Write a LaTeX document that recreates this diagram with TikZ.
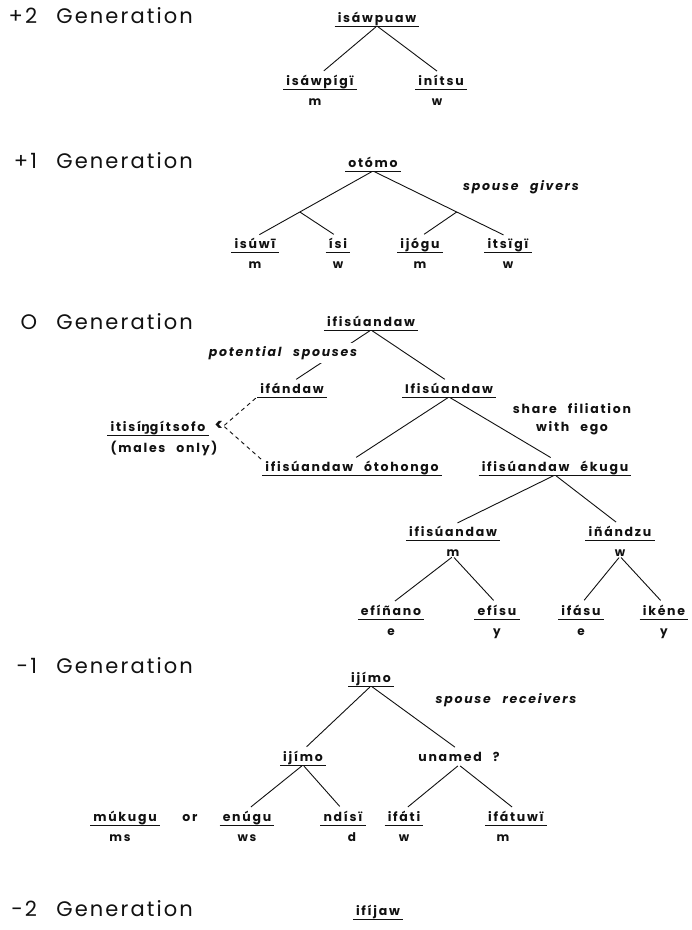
\documentclass[tikz,border=0pt]{standalone}
\usepackage{fontspec}
\usepackage{tikz}
\usetikzlibrary{positioning}
\newfontfamily\genfont[LetterSpace=10,WordSpace=2.5]{Poppins}
\newfontfamily\termfont[LetterSpace=14,WordSpace=2.5]{Poppins}
\newfontfamily\engfont{DejaVu Sans}
\newcommand{\eng}{{\engfont\bfseries ŋ}}
\definecolor{inkblack}{HTML}{111111}
\tikzset{
  gen/.style={font=\genfont\fontsize{21}{24}\selectfont, text=inkblack, inner sep=0pt},
  term/.style={
    font=\termfont\bfseries\fontsize{12.5}{15}\selectfont, text=inkblack,
    inner xsep=3pt, inner ysep=1pt, text height=10pt, text depth=2.5pt, anchor=south
  },
  word/.style={term, append after command={(\tikzlastnode.south west) edge[rule] (\tikzlastnode.south east)}},
  rule/.style={draw=inkblack, line width=1pt},
  sex/.style={font=\termfont\bfseries\fontsize{12}{14}\selectfont, text=inkblack,
    inner sep=0pt, text height=6pt, text depth=0pt},
  plain/.style={font=\termfont\bfseries\fontsize{12.5}{18}\selectfont, text=inkblack,
    inner sep=0pt, align=center},
  note/.style={font=\termfont\bfseries\itshape\fontsize{12.5}{15}\selectfont, text=inkblack, inner sep=0pt},
  link/.style={draw=inkblack, line width=0.9pt, shorten <=1.5pt, shorten >=5pt},
  maybe/.style={link, shorten <=1pt, shorten >=1pt, dash pattern=on 4pt off 3.5pt}
}

\begin{document}
\begin{tikzpicture}[x=1pt, y=-1pt]
\fill[white] (0,0) rectangle (692,930);
\useasboundingbox (0,0) rectangle (692,930);
% generation headings
\node[gen, anchor=base east] (g2) at (193,23) {+2 Generation};
\node[gen, anchor=base east] (g1) at (193,168) {+1 Generation};
\node[gen, anchor=base east] (g0) at (193,329) {O Generation};
\node[gen, anchor=base east] (gm1) at (193,673) {-1 Generation};
\node[gen, anchor=base east] (gm2) at (193,916) {-2 Generation};

% +2
\node[word] (isaw) at (377,26) {isáwpuaw};
\node[word] (isawp) at (320,89) {isáwpígï};
\node[word] (init) at (441,89) {inítsu};
\node[sex, below=10pt of isawp, xshift=-5pt] (isawp-s) {m};
\node[sex, below=10pt of init, xshift=-4pt] (init-s) {w};
\draw[link] (isaw.south) -- (isawp.north);
\draw[link] (isaw.south) -- (init.north);

% +1
\node[word] (otomo) at (373,171) {otómo};
\node[word] (isuw) at (255,252) {isúwī};
\node[word] (isi) at (338,252) {ísi};
\node[word] (ijog) at (420,252) {ijógu};
\node[word] (itsi) at (508,252) {itsïgï};
\foreach \n/\s in {isuw/m, isi/w, ijog/m, itsi/w}
  \node[sex, below=10pt of \n] (\n-s) {\s};
\path (otomo.south) -- (isuw.north) coordinate[pos=0.62] (lfork);
\path (otomo.south) -- (itsi.north) coordinate[pos=0.62] (rfork);
\draw[link] (otomo.south) -- (isuw.north);
\draw[link] (otomo.south) -- (itsi.north);
\draw[link, shorten <=0pt] (lfork) -- (isi.north);
\draw[link, shorten <=0pt] (rfork) -- (ijog.north);
\node[note] (givers) at (521,187) {spouse givers};

% 0
\node[word] (ifis) at (371,330) {ifisúandaw};
\node[word] (ifan) at (292,397) {ifándaw};
\node[word] (ifis2) at (449,397) {Ifisúandaw};
\node[word] (itis) at (158,435) {itisí\eng gítsofo};
\node[plain, font=\termfont\bfseries\fontsize{16}{18}\selectfont] (lt) at (219,426) {<};
\node[plain] (males) at (164,448) {(males only)};
\node[word] (oto) at (352,475) {ifisúandaw ótohongo};
\node[word] (eku) at (555,475) {ifisúandaw ékugu};
\node[word] (ifis3) at (453,540) {ifisúandaw};
\node[word] (inan) at (620,540) {iñándzu};
\node[sex, below=10pt of ifis3] (ifis3-s) {m};
\node[sex, below=10pt of inan] (inan-s) {w};
\node[word] (efin) at (391,619) {efíñano};
\node[word] (efis) at (497,619) {efísu};
\node[word] (ifas) at (581,619) {ifásu};
\node[word] (iken) at (664,619) {ikéne};
\foreach \n/\s in {efin/e, efis/y, ifas/e, iken/y}
  \node[sex, below=10pt of \n] (\n-s) {\s};
\draw[link] (ifis.south) -- (ifan.north);
\draw[link] (ifis.south) -- (ifis2.north);
\draw[link] (ifis2.south) -- (oto.north);
\draw[link] (ifis2.south) -- (eku.north);
\draw[link] (eku.south) -- (ifis3.north);
\draw[link] (eku.south) -- (inan.north);
\draw[link] (ifis3-s.south) -- (efin.north);
\draw[link] (ifis3-s.south) -- (efis.north);
\draw[link] (inan-s.south) -- (ifas.north);
\draw[link] (inan-s.south) -- (iken.north);
\draw[maybe] (lt.east) -- (ifan.south west);
\draw[maybe] (lt.east) -- (oto.north west);
\node[note, fill=white, inner sep=3pt] (pot) at (283,353) {potential spouses};
\node[plain] (share) at (572,419) {share filiation\\with ego};

% -1
\node[word] (ijimo) at (371,686) {ijímo};
\node[note] (recv) at (506,700) {spouse receivers};
\node[word] (ijimo2) at (303,765) {ijímo};
\node[term] (unam) at (459,765) {unamed ?};
\node[word] (muk) at (125,825) {múkugu};
\node[term] (orword) at (190,825) {or};
\node[word] (enug) at (247,825) {enúgu};
\node[word] (ndis) at (343,825) {ndísï};
\node[word] (ifati) at (404,825) {ifáti};
\node[word] (ifatu) at (516,825) {ifátuwï};
\node[sex, below=10pt of muk, xshift=-5pt] (muk-s) {ms};
\node[sex, below=10pt of enug] (enug-s) {ws};
\node[sex, below=10pt of ndis, xshift=9pt] (ndis-s) {d};
\node[sex, below=10pt of ifati] (ifati-s) {w};
\node[sex, below=10pt of ifatu, xshift=-13pt] (ifatu-s) {m};
\draw[link] (ijimo.south) -- (ijimo2.north);
\draw[link] (ijimo.south) -- (unam.north);
\draw[link] (ijimo2.south) -- (enug.north);
\draw[link] (ijimo2.south) -- (ndis.north);
\draw[link] (unam.south) -- (ifati.north);
\draw[link] (unam.south) -- (ifatu.north);

% -2
\node[word] (ifij) at (378,919) {ifíjaw};
\end{tikzpicture}
\end{document}
